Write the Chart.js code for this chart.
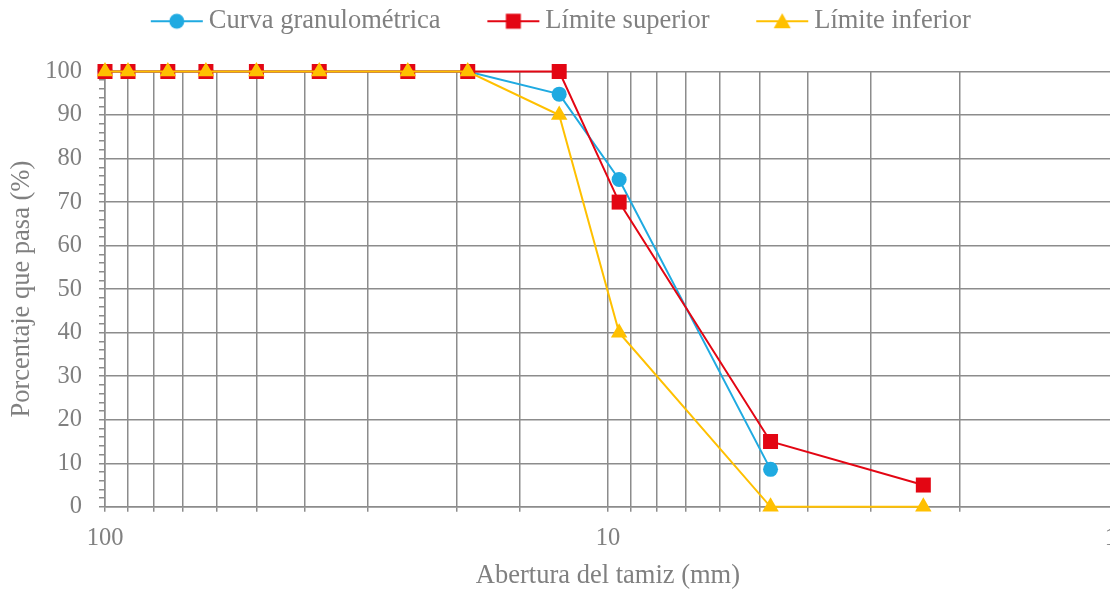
<!DOCTYPE html>
<html lang="es">
<head>
  <meta charset="UTF-8">
  <title>Curva granulométrica</title>
  <script src="https://cdn.jsdelivr.net/npm/chart.js"></script>
  <style>
    body {
      margin: 0;
      background: #ffffff;
      overflow: hidden;
    }

    .grafico-container {
      width: 1129px;
      height: 592px;
    }
  </style>
</head>
<body>

  <div class="grafico-container">
    <canvas id="graficoGranulometria"></canvas>
  </div>

  <script>
    // abertura de tamices (mm)
    const tamices = [100, 90, 75, 63, 50, 37.5, 25, 19, 12.5, 9.5, 4.75, 2.36];
    const curvaGranulometrica = [100, 100, 100, 100, 100, 100, 100, 100, 94.8, 75.2, 8.6, null];
    const limiteSuperior = [100, 100, 100, 100, 100, 100, 100, 100, 100, 70, 15, 5];
    const limiteInferior = [100, 100, 100, 100, 100, 100, 100, 100, 90, 40, 0, 0];
    const etiquetasX = [100, 10, 1];

    const gris = '#8c8c8c';
    const texto = '#808080';
    const fuente = 'Liberation Serif';

    function puntos(valores) {
      return tamices.map((t, i) => ({ x: t, y: valores[i] }));
    }

    // icono de leyenda: línea con marcador
    function iconoLeyenda(color, estilo) {
      const c = document.createElement('canvas');
      c.width = 54;
      c.height = 20;
      const g = c.getContext('2d');
      g.strokeStyle = color;
      g.fillStyle = color;
      g.lineWidth = 2;
      g.beginPath();
      g.moveTo(1, 10);
      g.lineTo(53, 10);
      g.stroke();
      g.beginPath();
      if (estilo === 'circle') {
        g.arc(27, 10, 7.5, 0, Math.PI * 2);
      } else if (estilo === 'rect') {
        g.rect(19.5, 2.5, 15, 15);
      } else {
        g.moveTo(27, 2);
        g.lineTo(35.5, 17);
        g.lineTo(18.5, 17);
        g.closePath();
      }
      g.fill();
      return c;
    }

    const series = [
      { label: 'Curva granulométrica', datos: curvaGranulometrica, color: '#1faae1', estilo: 'circle', radio: 7.5, orden: 3 },
      { label: 'Límite superior', datos: limiteSuperior, color: '#e30613', estilo: 'rect', radio: 10.6, orden: 2 },
      { label: 'Límite inferior', datos: limiteInferior, color: '#ffc000', estilo: 'triangle', radio: 9.5, orden: 1 }
    ];

    // espacio extra debajo de la leyenda
    const margenLeyenda = {
      id: 'margenLeyenda',
      beforeInit(chart) {
        const fitOriginal = chart.legend.fit;
        chart.legend.fit = function () {
          fitOriginal.bind(chart.legend)();
          this.height += 27;
        };
      }
    };

    const ctx = document.getElementById('graficoGranulometria').getContext('2d');

    const chart = new Chart(ctx, {
      type: 'scatter',
      data: {
        datasets: series.map(s => ({
          label: s.label,
          data: puntos(s.datos),
          showLine: true,
          borderColor: s.color,
          backgroundColor: s.color,
          borderWidth: 2,
          pointStyle: s.estilo,
          pointRadius: s.radio,
          pointHoverRadius: s.radio,
          pointBorderWidth: 0,
          order: s.orden,
          clip: false,
          icono: iconoLeyenda(s.color, s.estilo)
        }))
      },
      options: {
        responsive: true,
        maintainAspectRatio: false,
        animation: false,
        layout: {
          padding: { left: 0, right: 0, top: -46, bottom: 0 }
        },
        plugins: {
          legend: {
            position: 'top',
            labels: {
              usePointStyle: true,
              pointStyleWidth: 37.5,
              padding: 54,
              color: texto,
              font: { family: fuente, size: 26.5 },
              generateLabels: function (chart) {
                return chart.data.datasets.map((ds, i) => ({
                  text: ds.label,
                  fillStyle: ds.borderColor,
                  strokeStyle: ds.borderColor,
                  fontColor: texto,
                  lineWidth: 0,
                  pointStyle: ds.icono,
                  hidden: !chart.isDatasetVisible(i),
                  datasetIndex: i
                }));
              }
            }
          },
          tooltip: { enabled: false }
        },
        scales: {
          x: {
            type: 'logarithmic',
            reverse: true,
            min: 1,
            max: 100,
            border: { color: gris, width: 1.5 },
            grid: {
              color: gris,
              lineWidth: 1.5,
              tickLength: 5,
              tickColor: gris
            },
            ticks: {
              autoSkip: false,
              maxRotation: 0,
              padding: 12,
              color: texto,
              font: { family: fuente, size: 24.5 },
              callback: function (valor) {
                return etiquetasX.includes(valor) ? String(valor) : '';
              }
            },
            title: {
              display: true,
              text: 'Abertura del tamiz (mm)',
              color: texto,
              font: { family: fuente, size: 26.5 },
              padding: { top: -5, bottom: 0 }
            }
          },
          y: {
            min: 0,
            max: 100,
            afterFit: function (escala) {
              escala.width = 105;
            },
            border: { color: gris, width: 1.5 },
            grid: {
              lineWidth: 1.5,
              tickLength: 6,
              tickColor: gris,
              color: function (c) {
                return c.tick && c.tick.value % 10 === 0 ? gris : 'rgba(0,0,0,0)';
              }
            },
            ticks: {
              stepSize: 2,
              autoSkip: false,
              padding: 17,
              color: texto,
              font: { family: fuente, size: 24.5 },
              callback: function (valor) {
                return valor % 10 === 0 ? String(valor) : '';
              }
            },
            title: {
              display: true,
              text: 'Porcentaje que pasa (%)',
              color: texto,
              font: { family: fuente, size: 26.5 },
              padding: { top: 6, bottom: 0 }
            }
          }
        }
      },
      plugins: [margenLeyenda]
    });
  </script>

</body>
</html>
